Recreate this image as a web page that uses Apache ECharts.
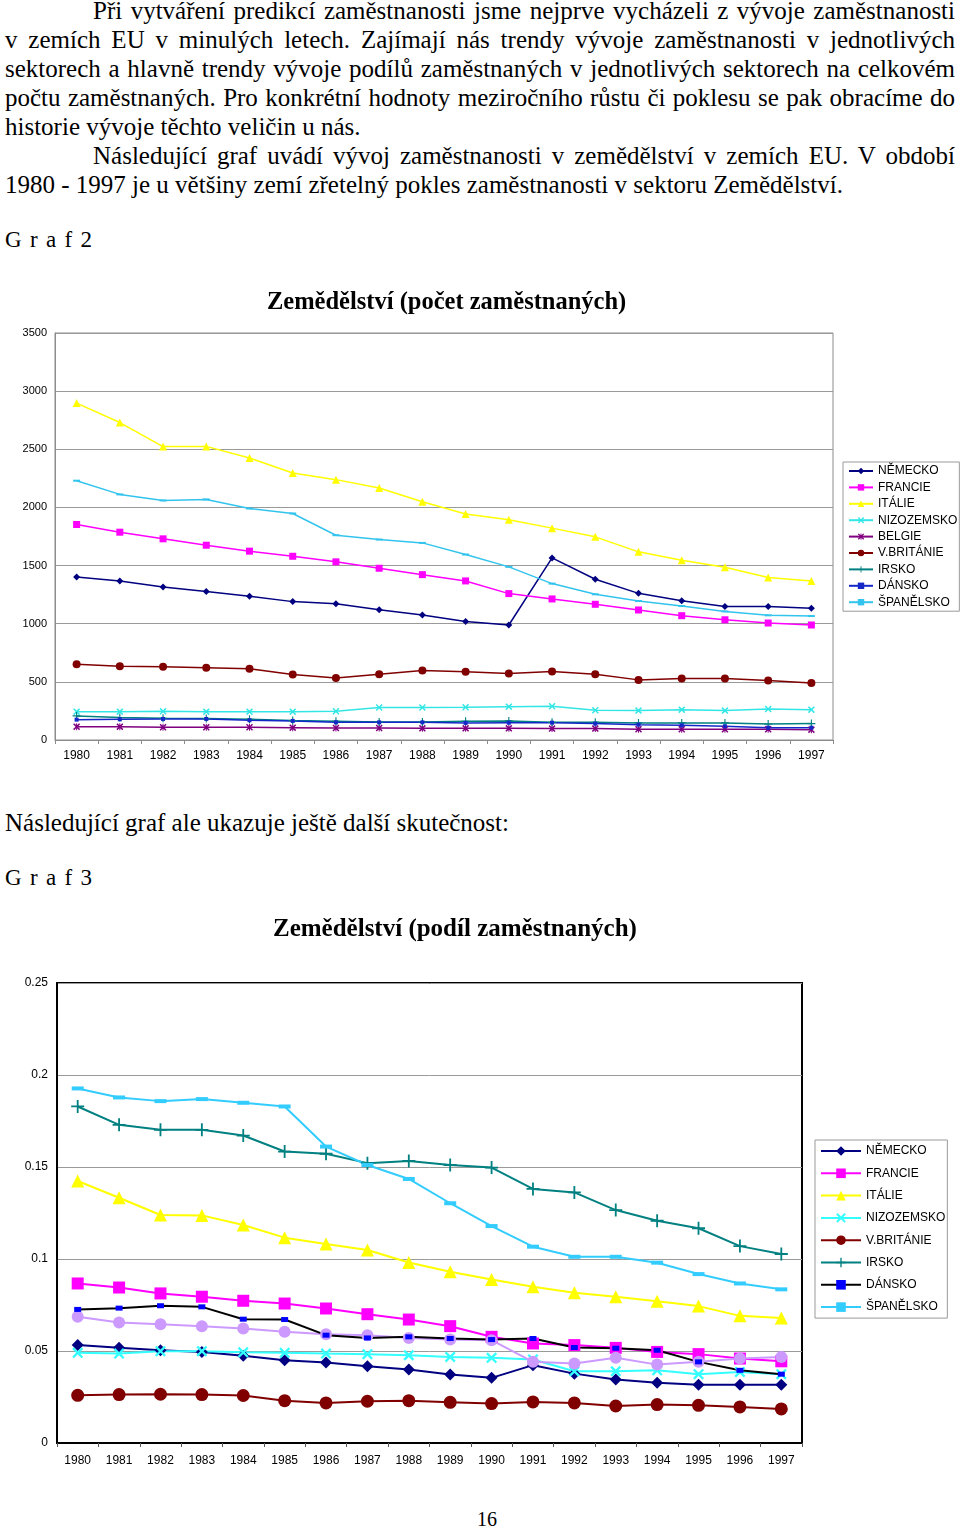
<!DOCTYPE html>
<html><head><meta charset="utf-8">
<script src="https://cdn.jsdelivr.net/npm/echarts@6/dist/echarts.min.js"></script>
<style>
body{margin:0;width:960px;height:1529px;background:#fff;position:relative;overflow:hidden;font-family:"Liberation Serif","Times New Roman",serif;color:#000}
.t{position:absolute;left:5px;width:950px;font-size:25px;line-height:29px}
.j{text-align:justify;text-align-last:justify}
.ind{text-indent:88px}
.g{position:absolute;left:5px;font-size:23px;letter-spacing:1.3px}
#c1{position:absolute;left:0;top:270px;width:960px;height:500px}
#c2{position:absolute;left:0;top:900px;width:960px;height:580px}
</style></head>
<body>
<div class="t" style="top:-4px">
<div class="j ind">Při vytváření predikcí zaměstnanosti jsme nejprve vycházeli z vývoje zaměstnanosti</div>
<div class="j">v zemích EU v minulých letech. Zajímají nás trendy vývoje zaměstnanosti v jednotlivých</div>
<div class="j">sektorech a hlavně trendy vývoje podílů zaměstnaných v jednotlivých sektorech na celkovém</div>
<div class="j">počtu zaměstnaných. Pro konkrétní hodnoty meziročního růstu či poklesu se pak obracíme do</div>
<div>historie vývoje těchto veličin u nás.</div>
<div class="j ind">Následující graf uvádí vývoj zaměstnanosti v zemědělství v zemích EU. V období</div>
<div>1980 - 1997 je u většiny zemí zřetelný pokles zaměstnanosti v sektoru Zemědělství.</div>
</div>
<div class="g" style="top:227px">G r a f 2</div>
<div class="t" style="top:808px">Následující graf ale ukazuje ještě další skutečnost:</div>
<div class="g" style="top:865px">G r a f 3</div>
<div style="position:absolute;left:477px;top:1508px;font-size:20px">16</div>
<div id="c1"></div>
<div id="c2"></div>
<script>
const years = ['1980','1981','1982','1983','1984','1985','1986','1987','1988','1989','1990','1991','1992','1993','1994','1995','1996','1997'];
const yTicks1 = [0, 500, 1000, 1500, 2000, 2500, 3000, 3500];
const yTicks2 = [0, 0.05, 0.1, 0.15, 0.2, 0.25];
const legendNames1 = ['NĚMECKO','FRANCIE','ITÁLIE','NIZOZEMSKO','BELGIE','V.BRITÁNIE','IRSKO','DÁNSKO','ŠPANĚLSKO'];
const legendNames2 = ['NĚMECKO','FRANCIE','ITÁLIE','NIZOZEMSKO','V.BRITÁNIE','IRSKO','DÁNSKO','ŠPANĚLSKO'];

// Graf 2 - count employed (thousands)
const countNemecko   = [1402,1368,1316,1276,1236,1190,1172,1121,1075,1020,989,1566,1382,1261,1198,1149,1149,1132];
const countFrancie   = [1853,1787,1730,1675,1624,1580,1532,1477,1422,1368,1259,1213,1167,1118,1069,1034,1006,989];
const countItalie    = [2897,2730,2523,2525,2425,2296,2239,2167,2049,1943,1894,1822,1747,1618,1546,1486,1397,1368];
const countNizozemsko= [244,244,247,244,244,244,247,279,279,282,287,290,256,253,261,253,267,261];
const countBelgie    = [115,115,109,109,109,106,103,103,100,100,100,98,98,92,92,92,92,89];
const countBritanie  = [652,635,629,621,612,563,534,566,598,586,572,589,566,517,529,529,511,491];
const countIrsko     = [207,193,187,184,178,167,161,155,155,161,164,152,152,147,147,147,138,141];
const countDansko    = [175,178,181,181,170,164,152,152,152,147,149,149,141,132,126,118,106,106];
const countSpanelsko = [2230,2112,2060,2069,1991,1948,1761,1724,1695,1595,1489,1345,1253,1195,1152,1106,1072,1066];

// Graf 3 - share of employed
const shareNemecko   = [0.0532,0.0517,0.0504,0.0495,0.0474,0.0450,0.0437,0.0417,0.0399,0.0372,0.0354,0.0423,0.0377,0.0345,0.0328,0.0317,0.0317,0.0317];
const shareFrancie   = [0.0867,0.0845,0.0813,0.0795,0.0773,0.0758,0.0731,0.0700,0.0671,0.0635,0.0577,0.0541,0.0532,0.0517,0.0495,0.0483,0.0459,0.0444];
const shareItalie    = [0.1424,0.1333,0.1239,0.1237,0.1185,0.1116,0.1081,0.1049,0.0981,0.0931,0.0889,0.0849,0.0816,0.0795,0.0771,0.0744,0.0691,0.0680];
const shareNizozemsko= [0.0490,0.0486,0.0499,0.0499,0.0493,0.0490,0.0486,0.0483,0.0477,0.0468,0.0463,0.0454,0.0390,0.0390,0.0395,0.0374,0.0386,0.0374];
const shareBelgie    = [0.0686,0.0655,0.0646,0.0635,0.0622,0.0604,0.0591,0.0586,0.0571,0.0562,0.0559,0.0441,0.0432,0.0463,0.0426,0.0441,0.0459,0.0468];
const shareBritanie  = [0.0259,0.0263,0.0265,0.0263,0.0258,0.0230,0.0218,0.0227,0.0230,0.0221,0.0214,0.0223,0.0218,0.0201,0.0209,0.0205,0.0196,0.0185];
const shareIrsko     = [0.1829,0.1729,0.1702,0.1702,0.1671,0.1584,0.1572,0.1521,0.1533,0.1511,0.1497,0.1381,0.1362,0.1266,0.1208,0.1167,0.1070,0.1027];
const shareDansko    = [0.0726,0.0733,0.0746,0.0740,0.0673,0.0671,0.0586,0.0571,0.0577,0.0568,0.0562,0.0568,0.0519,0.0515,0.0504,0.0441,0.0395,0.0374];
const shareSpanelsko = [0.1927,0.1878,0.1858,0.1869,0.1849,0.1829,0.1611,0.1511,0.1435,0.1303,0.1179,0.1067,0.1012,0.1012,0.0980,0.0918,0.0867,0.0835];

const SYM_X = 'path://M0,1.5L1.5,0L5,3.5L8.5,0L10,1.5L6.5,5L10,8.5L8.5,10L5,6.5L1.5,10L0,8.5L3.5,5Z';
const SYM_PLUS = 'path://M4.3,0H5.7V4.3H10V5.7H5.7V10H4.3V5.7H0V4.3H4.3Z';
const SYM_AST = 'path://M0,1.5L1.5,0L5,3.5L8.5,0L10,1.5L6.5,5L10,8.5L8.5,10L5,6.5L1.5,10L0,8.5L3.5,5Z M4.3,0H5.7V10H4.3Z';

function mk(name, data, color, symbol, size, lw, lineColor){
  return {
    type:'line', name:name, data:data, symbol:symbol, symbolSize:size, showSymbol:true,
    lineStyle:{color:lineColor||color, width:lw},
    itemStyle:{color:color},
    emphasis:{disabled:true}, animation:false
  };
}
const sansFont = '"Liberation Sans", Arial, sans-serif';
const serifFont = '"Liberation Serif", "Times New Roman", serif';

const c1 = echarts.init(document.getElementById('c1'));
c1.setOption({
  animation:false,
  title:{text:'Zemědělství (počet zaměstnaných)', left:262, top:15,
    textStyle:{fontFamily:serifFont, fontSize:24.5, fontWeight:'bold', color:'#000'}},
  grid:{left:55, top:63, width:778, height:407, show:true, borderColor:'#8c8c8c', borderWidth:1, containLabel:false},
  legend:{orient:'vertical', left:843, top:192, data:legendNames1, itemWidth:24, itemHeight:8, itemGap:4.4,
    padding:[3,2,3,5], borderColor:'#999', borderWidth:1, selectedMode:false,
    textStyle:{fontFamily:sansFont, fontSize:12, color:'#000', lineHeight:12}},
  xAxis:{type:'category', data:years, boundaryGap:true,
    axisLine:{lineStyle:{color:'#8c8c8c'}}, axisTick:{show:true, length:4, lineStyle:{color:'#8c8c8c'}},
    axisLabel:{fontFamily:sansFont, fontSize:12, color:'#000', margin:10, interval:0}},
  yAxis:{type:'value', min:yTicks1[0], max:yTicks1[yTicks1.length-1], interval:yTicks1[1]-yTicks1[0],
    axisLine:{show:true, lineStyle:{color:'#8c8c8c'}}, axisTick:{show:false},
    splitLine:{lineStyle:{color:'#9a9a9a'}},
    axisLabel:{fontFamily:sansFont, fontSize:11, color:'#000', margin:8, formatter:function(v){return String(v);}}},
  series:[
    mk('NĚMECKO', countNemecko, '#000080', 'diamond', 7, 1.5),
    mk('FRANCIE', countFrancie, '#ff00ff', 'rect', 7, 1.5),
    mk('ITÁLIE', countItalie, '#ffff00', 'triangle', 8, 1.5),
    mk('NIZOZEMSKO', countNizozemsko, '#33e6e6', SYM_X, 7, 1.5),
    mk('BELGIE', countBelgie, '#800080', SYM_AST, 7, 1.5),
    mk('V.BRITÁNIE', countBritanie, '#800000', 'circle', 8, 1.5),
    mk('IRSKO', countIrsko, '#008080', SYM_PLUS, 8, 1.5),
    mk('DÁNSKO', countDansko, '#1428c8', 'rect', [4,4], 1.5),
    mk('ŠPANĚLSKO', countSpanelsko, '#33c4ee', 'rect', [7,2], 1.5)
  ]
});

const c2 = echarts.init(document.getElementById('c2'));
c2.setOption({
  animation:false,
  title:{text:'Zemědělství (podíl zaměstnaných)', left:268, top:12,
    textStyle:{fontFamily:serifFont, fontSize:25, fontWeight:'bold', color:'#000'}},
  grid:{left:57, top:83, width:745, height:460, show:true, borderColor:'#000', borderWidth:2, containLabel:false},
  legend:{orient:'vertical', left:815, top:240, data:legendNames2, itemWidth:40, itemHeight:12, itemGap:10.3,
    padding:[5,2,5,5], borderColor:'#999', borderWidth:1, selectedMode:false,
    textStyle:{fontFamily:sansFont, fontSize:12, color:'#000', lineHeight:12}},
  xAxis:{type:'category', data:years, boundaryGap:true,
    axisLine:{lineStyle:{color:'#000', width:2}}, axisTick:{show:true, length:4, lineStyle:{color:'#555'}},
    axisLabel:{fontFamily:sansFont, fontSize:12, color:'#000', margin:12, interval:0}},
  yAxis:{type:'value', min:yTicks2[0], max:yTicks2[yTicks2.length-1], interval:0.05,
    axisLine:{show:true, lineStyle:{color:'#000', width:2}}, axisTick:{show:false},
    splitLine:{lineStyle:{color:'#9a9a9a'}},
    axisLabel:{fontFamily:sansFont, fontSize:12, color:'#000', margin:9}},
  series:[
    mk('NĚMECKO', shareNemecko, '#000080', 'diamond', 12, 2),
    mk('FRANCIE', shareFrancie, '#ff00ff', 'rect', 12, 2),
    mk('ITÁLIE', shareItalie, '#ffff00', 'triangle', 13, 2),
    mk('NIZOZEMSKO', shareNizozemsko, '#33ffff', SYM_X, 11, 2),
    mk('BELGIE', shareBelgie, '#cc99ff', 'circle', 12, 2),
    mk('V.BRITÁNIE', shareBritanie, '#800000', 'circle', 13, 2),
    mk('IRSKO', shareIrsko, '#008080', SYM_PLUS, 13, 2),
    mk('DÁNSKO', shareDansko, '#0000ff', 'rect', [7,5], 2, '#000000'),
    mk('ŠPANĚLSKO', shareSpanelsko, '#33ccff', 'rect', [12,4], 2)
  ]
});
</script>
</body></html>
